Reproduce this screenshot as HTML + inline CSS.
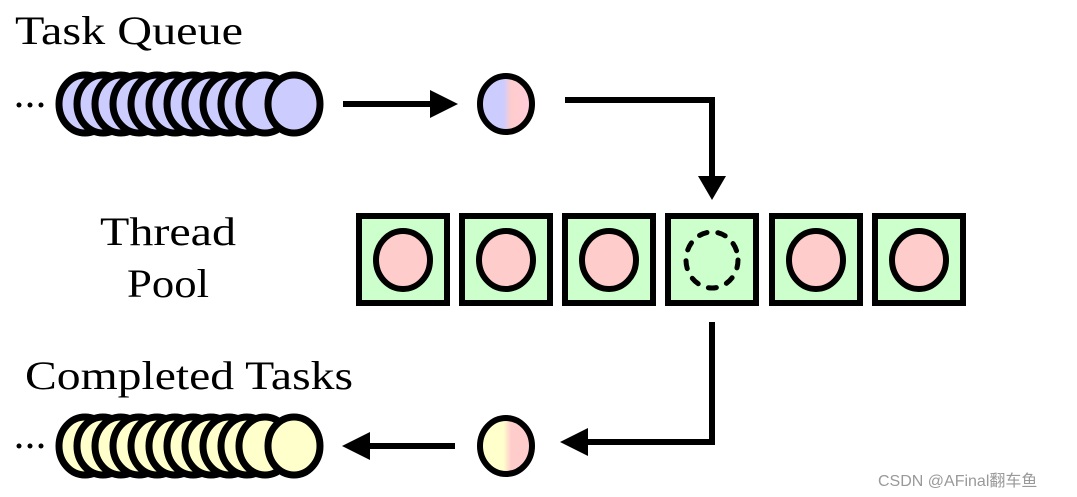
<!DOCTYPE html>
<html><head><meta charset="utf-8"><style>
html,body{margin:0;padding:0;background:#fff;}
svg{display:block}
</style></head><body>
<svg width="1077" height="497" viewBox="0 0 1077 497" xmlns="http://www.w3.org/2000/svg">
<defs>
<linearGradient id="g1" x1="0" x2="1" y1="0" y2="0">
<stop offset="0" stop-color="#ccccff"/><stop offset="0.45" stop-color="#ccccff"/><stop offset="0.6" stop-color="#ffcccc"/><stop offset="1" stop-color="#ffccdd"/>
</linearGradient>
<linearGradient id="g2" x1="0" x2="1" y1="0" y2="0">
<stop offset="0" stop-color="#ffffcc"/><stop offset="0.45" stop-color="#ffffcc"/><stop offset="0.6" stop-color="#ffcccc"/><stop offset="1" stop-color="#ffcccc"/>
</linearGradient>
</defs>
<g font-family="'Liberation Serif', serif" fill="#000">
<text x="15" y="44" font-size="40" textLength="228" lengthAdjust="spacingAndGlyphs">Task Queue</text>
<text x="168" y="245" font-size="40" text-anchor="middle" textLength="136" lengthAdjust="spacingAndGlyphs">Thread</text>
<text x="168" y="297" font-size="40" text-anchor="middle" textLength="82" lengthAdjust="spacingAndGlyphs">Pool</text>
<text x="25" y="389" font-size="40" textLength="328" lengthAdjust="spacingAndGlyphs">Completed Tasks</text>
</g>
<g fill="#000">
<circle cx="19" cy="105" r="2.5"/><circle cx="30" cy="105" r="2.5"/><circle cx="41" cy="105" r="2.5"/>
<circle cx="19" cy="446" r="2.5"/><circle cx="30" cy="446" r="2.5"/><circle cx="41" cy="446" r="2.5"/>
</g>
<g stroke="#000" stroke-width="7" fill="#ccccff">
<ellipse cx="85" cy="104" rx="26" ry="29"/><ellipse cx="103" cy="104" rx="26" ry="29"/><ellipse cx="121" cy="104" rx="26" ry="29"/><ellipse cx="139" cy="104" rx="26" ry="29"/><ellipse cx="157" cy="104" rx="26" ry="29"/><ellipse cx="175" cy="104" rx="26" ry="29"/><ellipse cx="193" cy="104" rx="26" ry="29"/><ellipse cx="211" cy="104" rx="26" ry="29"/><ellipse cx="229" cy="104" rx="26" ry="29"/><ellipse cx="247" cy="104" rx="26" ry="29"/><ellipse cx="265" cy="104" rx="26" ry="29"/><ellipse cx="294" cy="104" rx="26" ry="29"/>
</g>
<g stroke="#000" stroke-width="7" fill="#ffffcc">
<ellipse cx="85" cy="446" rx="26" ry="29"/><ellipse cx="103" cy="446" rx="26" ry="29"/><ellipse cx="121" cy="446" rx="26" ry="29"/><ellipse cx="139" cy="446" rx="26" ry="29"/><ellipse cx="157" cy="446" rx="26" ry="29"/><ellipse cx="175" cy="446" rx="26" ry="29"/><ellipse cx="193" cy="446" rx="26" ry="29"/><ellipse cx="211" cy="446" rx="26" ry="29"/><ellipse cx="229" cy="446" rx="26" ry="29"/><ellipse cx="247" cy="446" rx="26" ry="29"/><ellipse cx="265" cy="446" rx="26" ry="29"/><ellipse cx="294" cy="446" rx="26" ry="29"/>
</g>
<ellipse cx="506" cy="104" rx="26" ry="28" fill="url(#g1)" stroke="#000" stroke-width="6"/>
<ellipse cx="506" cy="446" rx="26" ry="28" fill="url(#g2)" stroke="#000" stroke-width="6"/>
<g stroke="#000" stroke-width="6" fill="none">
<line x1="343" y1="104" x2="432" y2="104"/>
<polyline points="565,100 712,100 712,178"/>
<polyline points="712,322 712,442 585,442"/>
<line x1="455" y1="446" x2="368" y2="446"/>
</g>
<g fill="#000">
<polygon points="430,90 458,104 430,118"/>
<polygon points="698,176 726,176 712,200"/>
<polygon points="588,428 588,456 560,442"/>
<polygon points="370,432 370,460 342,446"/>
</g>
<g stroke="#000" stroke-width="6" fill="#ccffcc">
<rect x="359" y="216" width="88" height="87"/>
<rect x="462" y="216" width="88" height="87"/>
<rect x="565" y="216" width="88" height="87"/>
<rect x="668" y="216" width="88" height="87"/>
<rect x="772" y="216" width="88" height="87"/>
<rect x="875" y="216" width="88" height="87"/>
</g>
<g stroke="#000" stroke-width="6" fill="#ffcccc">
<ellipse cx="403" cy="260" rx="27" ry="29"/>
<ellipse cx="506" cy="260" rx="27" ry="29"/>
<ellipse cx="609" cy="260" rx="27" ry="29"/>
<ellipse cx="816" cy="260" rx="27" ry="29"/>
<ellipse cx="919" cy="260" rx="27" ry="29"/>
</g>
<ellipse cx="712" cy="260" rx="26" ry="28" fill="none" stroke="#000" stroke-width="5" stroke-dasharray="8 11" stroke-linecap="round"/>
<text x="878" y="486" font-family="'Liberation Sans','Noto Sans CJK SC',sans-serif" font-size="16" fill="#999">CSDN @AFinal翻车鱼</text>
</svg>
</body></html>
